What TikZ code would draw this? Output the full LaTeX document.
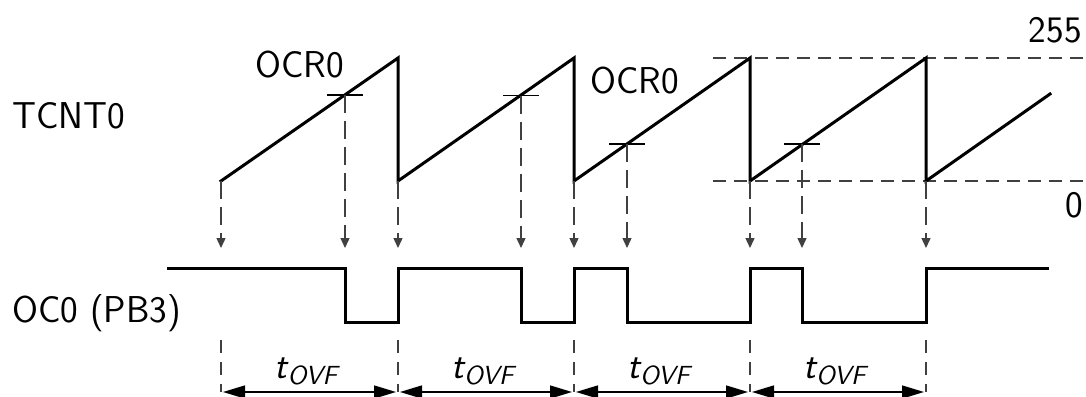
\documentclass[tikz,border=0pt]{standalone}
\usetikzlibrary{arrows.meta,calc}
\begin{document}
\begin{tikzpicture}[x=0.5pt,y=-0.5pt,
  wave/.style={line width=1.5pt,line join=miter,line cap=rect,black},
  ocrtick/.style={line width=0.8pt,black},
  level/.style={line width=0.7pt,black!75,dash pattern=on 6.5pt off 4pt},
  drop/.style={line width=0.7pt,black!75,dash pattern=on 9pt off 4pt,-{Triangle[length=5pt,width=4.5pt]}},
  bound/.style={line width=0.7pt,black!75,dash pattern=on 6.5pt off 4.5pt},
  span/.style={line width=0.75pt,{Triangle[length=11pt,width=6.5pt]}-{Triangle[length=11pt,width=6.5pt]},shorten <=1pt,shorten >=1pt},
  lbl/.style={inner sep=0pt,font=\sffamily\fontsize{18.7}{22}\selectfont},
]
\useasboundingbox (0,0) rectangle (1086,396);

% sawtooth corner points
\coordinate (p0) at (221,181);
\coordinate (t1) at (398,58);  \coordinate (b1) at (398,181);
\coordinate (t2) at (574,58);  \coordinate (b2) at (574,181);
\coordinate (t3) at (750,58);  \coordinate (b3) at (750,181);
\coordinate (t4) at (926,58);  \coordinate (b4) at (926,181);
\coordinate (pe) at (1050,94);
% compare points
\coordinate (m1) at (345,94.8);
\coordinate (m2) at (521,95.5);
\coordinate (m3) at (627,144.2);
\coordinate (m4) at (802,144.2);
% arrow tip line, signal levels, bottom
\coordinate (tip) at (0,248);
\coordinate (hi) at (0,268);
\coordinate (lo) at (0,322);
\coordinate (btop) at (0,340);
\coordinate (bbot) at (0,392);
\coordinate (lvlL) at (713,0);
\coordinate (lvlR) at (1086,0);

% labels
\node[lbl,anchor=base west] (tcnt) at (12,128) {TCNT0};
\node[lbl,anchor=base west] (oc0) at (12,322) {OC0 (PB3)};
\node[lbl,anchor=base west] (ocrA) at (255,77) {OCR0};
\node[lbl,anchor=base west] (ocrB) at (590,93) {OCR0};
\node[lbl,anchor=base east] (v255) at (1082,42) {255};
\node[lbl,anchor=base east] (v0) at (1083,217) {0};

% level lines
\draw[level] (lvlL |- t3) -- (lvlR |- t3);
\draw[level] (lvlL |- b3) -- (lvlR |- b3);

% sawtooth
\draw[wave] (p0) -- (t1) -- (b1) -- (t2) -- (b2) -- (t3) -- (b3) -- (t4) -- (b4) -- (pe);

% compare ticks
\foreach \m in {m1,m2,m3,m4}{
  \draw[ocrtick] ($(\m)+(-18,0)$) -- ($(\m)+(18,0)$);
}

% dashed drop arrows
\foreach \c in {p0,m1,b1,m2,b2,m3,b3,m4,b4}{
  \draw[drop] (\c) -- (\c |- tip);
}

% output signal
\coordinate (s0) at (168,268);
\coordinate (s1) at (1047,268);
\draw[wave] (s0) -- (m1 |- hi) -- (m1 |- lo) -- (b1 |- lo) -- (b1 |- hi)
  -- (m2 |- hi) -- (m2 |- lo) -- (b2 |- lo) -- (b2 |- hi)
  -- (m3 |- hi) -- (m3 |- lo) -- (b3 |- lo) -- (b3 |- hi)
  -- (m4 |- hi) -- (m4 |- lo) -- (b4 |- lo) -- (b4 |- hi) -- (s1);

% period boundaries
\foreach \c in {p0,b1,b2,b3,b4}{
  \draw[bound] (\c |- btop) -- (\c |- bbot);
}

% period arrows and labels
\foreach \a/\b in {p0/b1,b1/b2,b2/b3,b3/b4}{
  \draw[span] (\a |- bbot) -- (\b |- bbot);
  \node[lbl,anchor=base] at ($(\a |- bbot)!0.5!(\b |- bbot)+(-3,-14)$) {\itshape t\textsubscript{OVF}};
}
\end{tikzpicture}
\end{document}
